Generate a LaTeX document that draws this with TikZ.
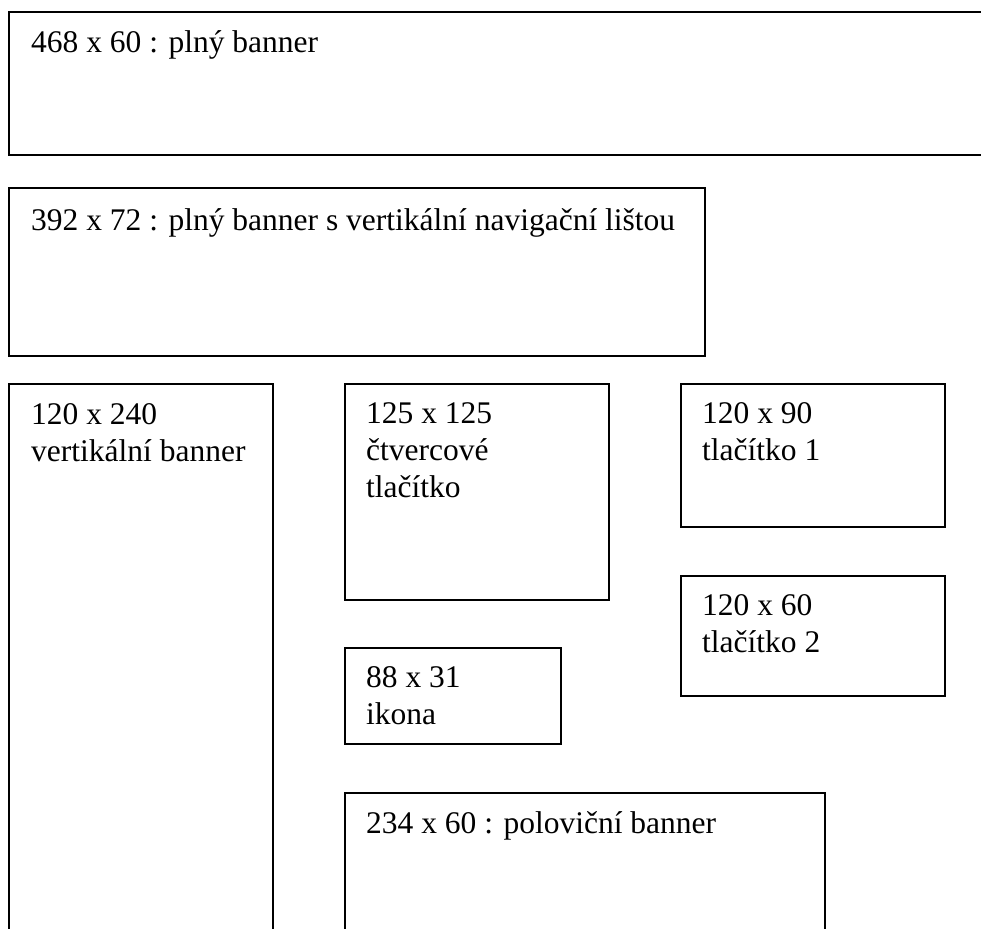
\documentclass[tikz,border=0pt]{standalone}
\usepackage{fontspec}
\setmainfont{Liberation Serif}
\begin{document}
\begin{tikzpicture}[x=1pt,y=-1pt,
  boxline/.style={draw=black,line width=2pt},
  lbl/.style={anchor=base west,inner sep=0pt,font=\fontsize{31.5}{37}\selectfont}]
\useasboundingbox (0,0) rectangle (981,928);
\clip (0,0) rectangle (981,928);
% top full banner (right edge beyond page)
\draw[boxline] (1000,12.5) -- (8.5,12.5) -- (8.5,155.5) -- (1000,155.5);
\node[lbl] (t1) at (31,53) {468 x 60 : plný banner};
% 392 x 72
\draw[boxline] (8.5,188) rectangle (704.5,356);
\node[lbl] (t2) at (31,230) {392 x 72 : plný banner s vertikální navigační lištou};
% vertical banner (bottom open)
\draw[boxline] (8.5,940) -- (8.5,384) -- (272.5,384) -- (272.5,940);
\node[lbl] (t3a) at (31,424) {120 x 240};
\node[lbl] (t3b) at (31,461) {vertikální banner};
% 125 x 125
\draw[boxline] (344.5,384) rectangle (608.5,600);
\node[lbl] (t4a) at (366,423) {125 x 125};
\node[lbl] (t4b) at (366,460) {čtvercové};
\node[lbl] (t4c) at (366,497) {tlačítko};
% 120 x 90
\draw[boxline] (680.5,384) rectangle (944.5,527);
\node[lbl] (t5a) at (702,423) {120 x 90};
\node[lbl] (t5b) at (702,460) {tlačítko 1};
% 120 x 60
\draw[boxline] (680.5,575.5) rectangle (944.5,695.5);
\node[lbl] (t6a) at (702,615) {120 x 60};
\node[lbl] (t6b) at (702,652) {tlačítko 2};
% 88 x 31
\draw[boxline] (344.5,648) rectangle (560.5,743.5);
\node[lbl] (t7a) at (366,687) {88 x 31};
\node[lbl] (t7b) at (366,724) {ikona};
% 234 x 60 (bottom open)
\draw[boxline] (344.5,940) -- (344.5,792.5) -- (824.5,792.5) -- (824.5,940);
\node[lbl] (t8) at (366,833) {234 x 60 : poloviční banner};
\end{tikzpicture}
\end{document}
